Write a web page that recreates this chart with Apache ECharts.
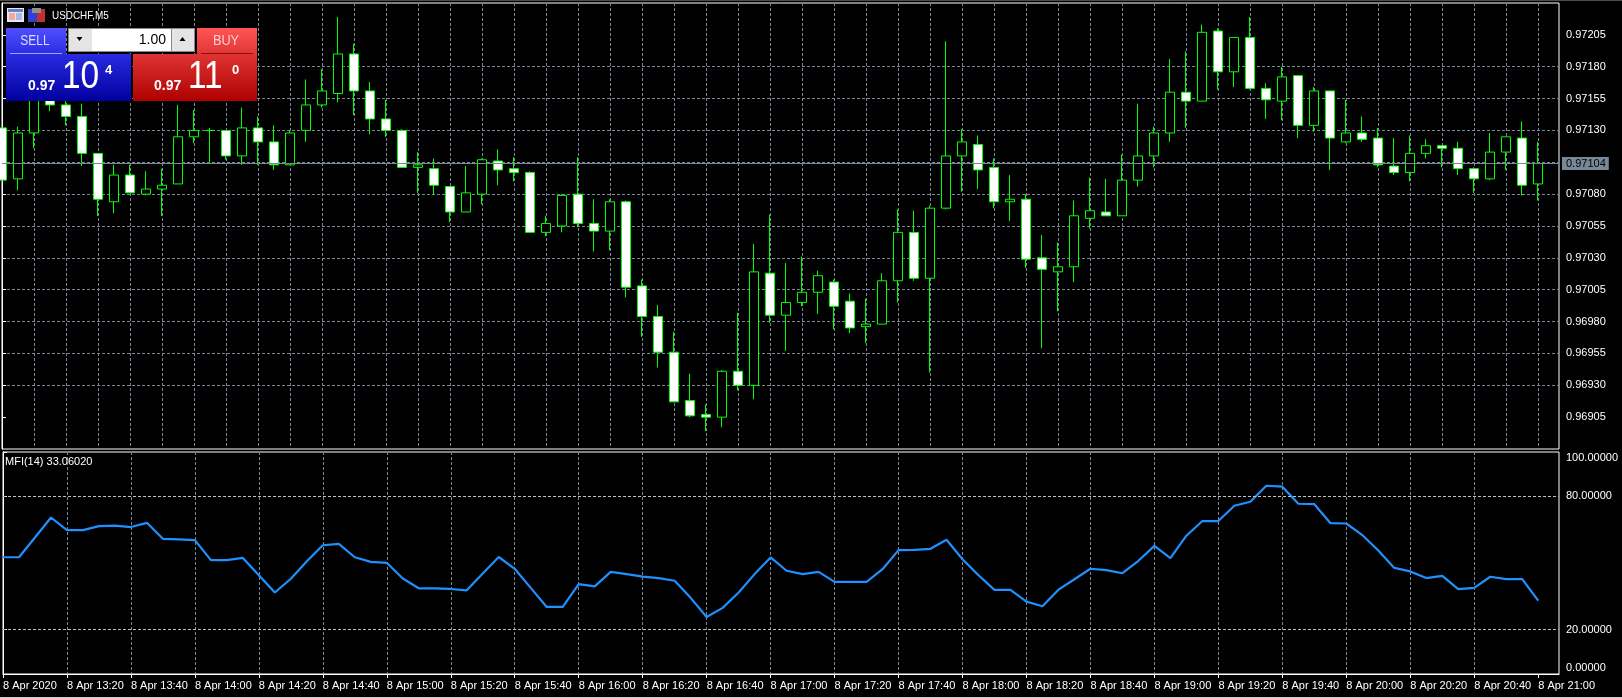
<!DOCTYPE html>
<html>
<head>
<meta charset="utf-8">
<title>USDCHF,M5</title>
<style>
html,body{margin:0;padding:0;background:#000;overflow:hidden}
#c{width:1622px;height:698px}
</style>
<script src="https://cdn.jsdelivr.net/npm/echarts@6/dist/echarts.min.js"></script>
</head>
<body>
<div id="c"></div>
<script>
const opens = [0.97132,0.97092,0.97128,0.97154,0.97150,0.97141,0.97112,0.97074,0.97095,0.97080,0.97084,0.97088,0.97125,0.97130,0.97130,0.97110,0.97132,0.97121,0.97103,0.97130,0.97150,0.97159,0.97190,0.97161,0.97139,0.97130,0.97101,0.97100,0.97086,0.97066,0.97080,0.97106,0.97100,0.97097,0.97050,0.97055,0.97080,0.97057,0.97051,0.97074,0.97008,0.96984,0.96956,0.96918,0.96907,0.96905,0.96941,0.96930,0.97018,0.96985,0.96995,0.97003,0.97011,0.96996,0.96976,0.96978,0.97012,0.97050,0.97014,0.97069,0.97110,0.97119,0.97101,0.97074,0.97076,0.97030,0.97019,0.97023,0.97061,0.97066,0.97063,0.97091,0.97110,0.97128,0.97160,0.97153,0.97208,0.97176,0.97203,0.97163,0.97153,0.97173,0.97134,0.97161,0.97121,0.97128,0.97124,0.97102,0.97097,0.97112,0.97118,0.97116,0.97100,0.97092,0.97113,0.97124,0.97088];
const closes = [0.97091,0.97128,0.97154,0.97150,0.97141,0.97112,0.97076,0.97095,0.97081,0.97084,0.97087,0.97125,0.97130,0.97130,0.97110,0.97132,0.97121,0.97103,0.97128,0.97150,0.97161,0.97190,0.97161,0.97139,0.97130,0.97101,0.97103,0.97087,0.97066,0.97081,0.97107,0.97099,0.97097,0.97050,0.97057,0.97079,0.97057,0.97051,0.97074,0.97007,0.96984,0.96956,0.96917,0.96906,0.96905,0.96941,0.96930,0.97019,0.96985,0.96995,0.97003,0.97016,0.96992,0.96975,0.96978,0.97012,0.97050,0.97014,0.97069,0.97110,0.97121,0.97099,0.97074,0.97076,0.97029,0.97021,0.97023,0.97063,0.97067,0.97063,0.97091,0.97110,0.97128,0.97160,0.97153,0.97207,0.97176,0.97203,0.97163,0.97154,0.97172,0.97134,0.97161,0.97124,0.97128,0.97123,0.97103,0.97097,0.97112,0.97118,0.97116,0.97100,0.97092,0.97113,0.97125,0.97087,0.97104];
const lows = [0.97091,0.97083,0.97116,0.97145,0.97134,0.97102,0.97063,0.97065,0.97081,0.97079,0.97063,0.97088,0.97120,0.97105,0.97107,0.97103,0.97103,0.97099,0.97103,0.97121,0.97148,0.97152,0.97142,0.97127,0.97125,0.97101,0.97081,0.97080,0.97058,0.97066,0.97072,0.97087,0.97090,0.97050,0.97047,0.97050,0.97054,0.97035,0.97036,0.96999,0.96968,0.96944,0.96917,0.96905,0.96894,0.96897,0.96926,0.96919,0.96979,0.96957,0.96992,0.96986,0.96974,0.96971,0.96963,0.96978,0.96995,0.97012,0.96940,0.97068,0.97082,0.97084,0.97069,0.97059,0.97022,0.96959,0.96988,0.97011,0.97053,0.97063,0.97063,0.97086,0.97101,0.97121,0.97132,0.97153,0.97162,0.97164,0.97162,0.97139,0.97138,0.97124,0.97129,0.97099,0.97120,0.97121,0.97101,0.97095,0.97090,0.97108,0.97101,0.97095,0.97081,0.97091,0.97099,0.97079,0.97075];
const highs = [0.97132,0.97133,0.97160,0.97156,0.97153,0.97151,0.97112,0.97103,0.97103,0.97098,0.97100,0.97150,0.97146,0.97132,0.97130,0.97148,0.97141,0.97134,0.97130,0.97170,0.97178,0.97219,0.97198,0.97168,0.97154,0.97131,0.97113,0.97108,0.97086,0.97102,0.97108,0.97115,0.97109,0.97098,0.97063,0.97080,0.97109,0.97076,0.97076,0.97075,0.97013,0.96993,0.96972,0.96939,0.96915,0.96942,0.96987,0.97041,0.97064,0.97026,0.97031,0.97020,0.97013,0.97002,0.96998,0.97018,0.97068,0.97067,0.97071,0.97200,0.97131,0.97126,0.97108,0.97095,0.97080,0.97048,0.97042,0.97075,0.97093,0.97092,0.97111,0.97151,0.97133,0.97186,0.97192,0.97213,0.97210,0.97203,0.97219,0.97167,0.97180,0.97173,0.97164,0.97161,0.97154,0.97141,0.97132,0.97124,0.97126,0.97123,0.97118,0.97121,0.97101,0.97128,0.97125,0.97137,0.97121];
const mfi = [52.6,52.6,61.5,70.5,64.8,64.8,66.6,66.8,66.2,68.1,60.9,60.6,60.3,51.3,51.3,52.3,44.5,36.7,42.9,50.8,58.0,58.6,52.6,50.5,50.1,43.0,38.6,38.6,38.3,37.7,45.3,52.7,47.4,38.8,30.2,30.2,40.5,39.5,46.0,45.0,43.9,43.2,42.0,34.3,25.7,29.8,36.7,45.0,52.5,46.5,45.0,46.0,41.5,41.5,41.5,47.2,55.8,55.9,56.4,60.5,51.7,44.5,37.9,37.9,32.6,30.5,38.0,42.7,47.4,46.8,45.4,51.0,57.7,52.2,62.3,68.9,68.9,75.8,77.6,84.8,84.4,76.7,76.5,68.0,67.8,62.6,55.6,47.8,46.2,43.2,44.2,38.2,38.8,43.8,42.7,42.7,33.06];
const timeLabels = ['8 Apr 2020','8 Apr 13:20','8 Apr 13:40','8 Apr 14:00','8 Apr 14:20','8 Apr 14:40','8 Apr 15:00','8 Apr 15:20','8 Apr 15:40','8 Apr 16:00','8 Apr 16:20','8 Apr 16:40','8 Apr 17:00','8 Apr 17:20','8 Apr 17:40','8 Apr 18:00','8 Apr 18:20','8 Apr 18:40','8 Apr 19:00','8 Apr 19:20','8 Apr 19:40','8 Apr 20:00','8 Apr 20:20','8 Apr 20:40','8 Apr 21:00'];
const priceTicks = [0.97205,0.97180,0.97155,0.97130,0.97105,0.97080,0.97055,0.97030,0.97005,0.96980,0.96955,0.96930,0.96905];
const mfiLabels = [100,80,20,0];
const mfiTicks = [100,80,20];
const mfiLevels = [80,20];
const currentPrice = 0.97104;
const mfiTitle = 'MFI(14) 33.06020';

const GRID = '#778899', LEVEL = '#c0c0c0', LIME = '#00ff00', FONT = '"Liberation Sans", Arial, sans-serif';
const xIdx = timeLabels.map((_, i) => i * 4);
const candles = opens.map((o, i) => [i, o, closes[i], lows[i], highs[i]]);
const xMax = 97.3;
const vSplit = {show: true, lineStyle: {color: GRID, type: [3, 2], width: 1}, showMinLine: false, showMaxLine: false};

function lin(a, b) { return {type: 'linear', x: 0, y: 0, x2: 0, y2: 1, colorStops: [{offset: 0, color: a}, {offset: 1, color: b}]}; }
function R(x, y, w, h, fill) { return {type: 'rect', silent: true, shape: {x, y, width: w, height: h}, style: {fill}}; }
function T(x, y, text, font, fill, align, sx) { return {type: 'text', silent: true, x, y, scaleX: sx || 1, style: {text, font, fill, align: align || 'left', verticalAlign: 'middle'}}; }
function Tri(cx, cy, dir) { return {type: 'polygon', silent: true, shape: {points: dir > 0 ? [[cx - 3, cy + 2], [cx + 3, cy + 2], [cx, cy - 2]] : [[cx - 3, cy - 2], [cx + 3, cy - 2], [cx, cy + 2]]}, style: {fill: '#000'}}; }

const overlay = [
  R(0, 0, 1622, 1, '#4d4d4d'),
  R(0, 697, 1622, 1, '#d0d0d0'),
  // window icons
  R(7, 8, 17, 14, '#e8e8f0'),
  R(8, 9, 15, 3, '#6a7fc8'),
  R(9, 13, 6, 7, '#f0a8a0'),
  R(16, 13, 6, 7, '#a8b8e8'),
  R(28, 9, 9, 13, '#3040d0'),
  R(37, 9, 8, 13, '#c03030'),
  R(32, 8, 9, 5, '#909090'),
  T(52, 16, 'USDCHF,M5', '11px ' + FONT, '#fff', 'left', 0.9),
  // sell / buy price panels
  R(6, 54, 125, 47, lin('#2a2ae0', '#0000a0')),
  R(133, 54, 124, 47, lin('#e03434', '#ae0000')),
  R(6, 28, 60, 26, lin('#5050ff', '#2c2ce4')),
  R(197, 28, 60, 26, lin('#ff5555', '#e23636')),
  R(10, 53, 52, 1, '#a0a0ff'),
  R(201, 53, 52, 1, '#8a1010'),
  T(35, 41, 'SELL', '15px ' + FONT, '#dcdcff', 'center', 0.8),
  T(226, 41, 'BUY', '15px ' + FONT, '#ffd0d0', 'center', 0.85),
  // lot spinner
  R(68, 28, 127, 24, '#8a8a8a'),
  R(69, 29, 23, 22, '#e4e4e4'),
  R(92, 29, 79, 22, '#ffffff'),
  R(172, 29, 22, 22, '#e4e4e4'),
  Tri(79.5, 39, -1),
  Tri(182.5, 39, 1),
  T(166, 40, '1.00', '14px ' + FONT, '#000', 'right'),
  // quote digits
  T(28, 86, '0.97', 'bold 14px ' + FONT, '#fff'),
  T(62, 78, '10', '38px ' + FONT, '#fff', 'left', 0.88),
  T(105, 70, '4', 'bold 13px ' + FONT, '#fff'),
  T(154, 86, '0.97', 'bold 14px ' + FONT, '#fff'),
  T(188, 78, '11', '38px ' + FONT, '#fff', 'left', 0.88),
  T(232, 70, '0', 'bold 13px ' + FONT, '#fff'),
  // indicator caption
  T(5, 462, mfiTitle, '11px ' + FONT, '#fff')
];

const labelBase = {color: '#fff', fontFamily: FONT, fontSize: 11};
const chart = echarts.init(document.getElementById('c'), null, {renderer: 'canvas', width: 1622, height: 698});
chart.setOption({
  animation: false,
  backgroundColor: '#000',
  graphic: {elements: overlay.map(e => Object.assign({z: 100}, e))},
  grid: [
    {left: 2, right: 63, top: 3, height: 446, show: true, borderColor: '#fff', borderWidth: 1, backgroundColor: '#000'},
    {left: 2, right: 63, top: 452, height: 222, show: true, borderColor: '#fff', borderWidth: 1, backgroundColor: '#000'}
  ],
  xAxis: [
    {type: 'value', gridIndex: 0, min: 0, max: xMax, interval: 2, axisLine: {show: false}, axisTick: {show: false}, axisLabel: {show: false}, splitLine: vSplit},
    {type: 'value', gridIndex: 1, min: 0, max: xMax, interval: 2, position: 'bottom',
      axisLine: {show: true, lineStyle: {color: '#fff', width: 1}},
      axisTick: {show: true, length: 4, lineStyle: {color: '#fff', width: 1}, customValues: xIdx},
      axisLabel: Object.assign({show: true, margin: 6, align: 'left', customValues: xIdx, hideOverlap: false,
        formatter: v => timeLabels[Math.round(v / 4)] || ''}, labelBase),
      splitLine: vSplit}
  ],
  yAxis: [
    {type: 'value', gridIndex: 0, position: 'right', min: 0.96880, max: 0.97230, interval: 0.00025, scale: true,
      axisLine: {show: true, lineStyle: {color: '#fff', width: 1}},
      axisTick: {show: true, length: 4, lineStyle: {color: '#fff', width: 1}, customValues: priceTicks},
      axisLabel: Object.assign({show: true, margin: 7, customValues: priceTicks, formatter: v => v.toFixed(5)}, labelBase),
      splitLine: {show: true, showMinLine: false, showMaxLine: false, lineStyle: {color: GRID, type: [3, 2], width: 1}}},
    {type: 'value', gridIndex: 1, position: 'right', min: 0, max: 100, interval: 20,
      axisLine: {show: true, lineStyle: {color: '#fff', width: 1}},
      axisTick: {show: true, length: 4, lineStyle: {color: '#fff', width: 1}, customValues: mfiTicks},
      axisLabel: Object.assign({show: true, margin: 7, customValues: mfiLabels,
        rich: {top: Object.assign({padding: [12, 0, 0, 0]}, labelBase), bot: Object.assign({padding: [0, 0, 12, 0]}, labelBase)},
        formatter: v => v === 100 ? '{top|' + v.toFixed(5) + '}' : v === 0 ? '{bot|' + v.toFixed(5) + '}' : v.toFixed(5)}, labelBase),
      splitLine: {show: false}}
  ],
  series: [
    {type: 'candlestick', name: 'USDCHF,M5', xAxisIndex: 0, yAxisIndex: 0, barWidth: 10, data: candles, silent: true,
      itemStyle: {color: '#000', color0: '#fff', borderColor: LIME, borderColor0: LIME, borderColorDoji: LIME, borderWidth: 1},
      markLine: {silent: true, symbol: 'none', animation: false, precision: 5,
        lineStyle: {color: GRID, type: 'solid', width: 1},
        label: {show: true, position: 'end', distance: 3, formatter: () => currentPrice.toFixed(5), color: '#000', backgroundColor: GRID, fontFamily: FONT, fontSize: 11, padding: [1, 3, 1, 4]},
        data: [{yAxis: currentPrice}]}},
    {type: 'line', name: 'MFI(14)', xAxisIndex: 1, yAxisIndex: 1, data: mfi.map((v, i) => [i, v]), showSymbol: false, silent: true,
      lineStyle: {color: '#1e90ff', width: 2.2}, itemStyle: {color: '#1e90ff'},
      markLine: {silent: true, symbol: 'none', animation: false, label: {show: false},
        lineStyle: {color: LEVEL, type: [3, 2], width: 1},
        data: mfiLevels.map(v => ({yAxis: v}))}}
  ]
});
</script>
</body>
</html>
